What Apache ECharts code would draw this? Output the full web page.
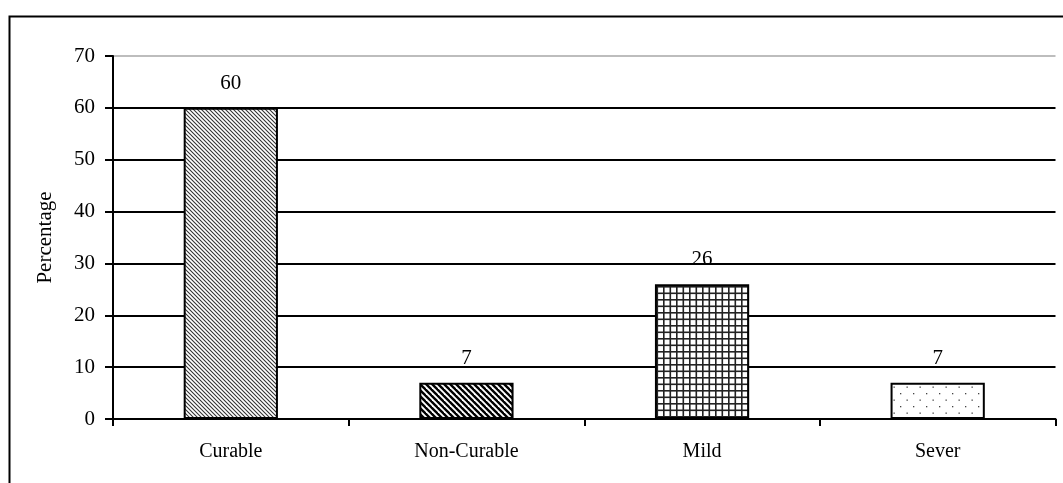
<!DOCTYPE html>
<html>
<head>
<meta charset="utf-8">
<script src="https://cdn.jsdelivr.net/npm/echarts@6/dist/echarts.min.js"></script>
<style>
html,body{margin:0;padding:0;background:#fff;}
#chart{width:1063px;height:483px;}
</style>
</head>
<body>
<div id="chart"></div>
<script>
const categories = ['Curable', 'Non-Curable', 'Mild', 'Sever'];
const percentages = [60, 7, 26, 7];
const yTicks = [0, 10, 20, 30, 40, 50, 60, 70];

function tile(w, h, draw) {
  const c = document.createElement('canvas');
  c.width = w; c.height = h;
  const ctx = c.getContext('2d');
  ctx.fillStyle = '#fff';
  ctx.fillRect(0, 0, w, h);
  draw(ctx, w, h);
  return c;
}
function diag(s, lw, col) {
  return tile(s, s, (ctx) => {
    ctx.strokeStyle = col; ctx.lineWidth = lw;
    for (let k = -1; k <= 1; k++) {
      ctx.beginPath();
      ctx.moveTo(k * s - 1, -1);
      ctx.lineTo(k * s + s + 1, s + 1);
      ctx.stroke();
    }
  });
}
const patCurable = diag(4, 1.1, '#333');
const patNon = diag(6, 2.4, '#000');
const patMild = tile(13, 13, (ctx) => {
  ctx.fillStyle = '#222';
  ctx.fillRect(0, 0, 1.6, 13); ctx.fillRect(6.5, 0, 1.6, 13);
  ctx.fillRect(0, 0, 13, 1.6); ctx.fillRect(0, 6.5, 13, 1.6);
});
const patSever = tile(13, 13, (ctx) => {
  ctx.fillStyle = '#444';
  ctx.fillRect(3, 3, 1.3, 1.3);
  ctx.fillRect(9.5, 9.5, 1.3, 1.3);
});
const patterns = [patCurable, patNon, patMild, patSever];

const FONT = "'Liberation Serif', 'Times New Roman', serif";
const chart = echarts.init(document.getElementById('chart'), null, {renderer: 'canvas'});
chart.setOption({
  animation: false,
  backgroundColor: '#fff',
  graphic: [{
    type: 'rect', left: 7, top: 14, silent: true,
    shape: {width: 1200, height: 600},
    style: {fill: 'none', stroke: '#000', lineWidth: 2}
  }],
  grid: {left: 113, right: 7.5, top: 56, bottom: 64, containLabel: false},
  xAxis: {
    type: 'category',
    data: categories,
    boundaryGap: true,
    axisLine: {lineStyle: {color: '#000', width: 2}},
    axisTick: {show: true, length: 7, lineStyle: {color: '#000', width: 2}},
    axisLabel: {color: '#000', fontFamily: FONT, fontSize: 20, margin: 23}
  },
  yAxis: {
    type: 'value',
    min: yTicks[0], max: yTicks[yTicks.length - 1], interval: 10,
    name: 'Percentage',
    nameLocation: 'middle',
    nameGap: 57,
    nameTextStyle: {color: '#000', fontFamily: FONT, fontSize: 21},
    axisLine: {show: true, lineStyle: {color: '#000', width: 2}},
    axisTick: {show: true, length: 8, lineStyle: {color: '#000', width: 2}},
    axisLabel: {color: '#000', fontFamily: FONT, fontSize: 21, margin: 18},
    splitLine: {show: true, lineStyle: {color: ['#000','#000','#000','#000','#000','#000','#000','#bdbdbd'], width: 2}}
  },
  series: [{
    type: 'bar',
    barWidth: '40%',
    data: percentages.map((v, i) => ({
      value: v,
      itemStyle: {color: {image: patterns[i], repeat: 'repeat'}}
    })),
    itemStyle: {borderColor: '#000', borderWidth: 2},
    label: {show: true, position: 'top', distance: 14, color: '#000', fontFamily: FONT, fontSize: 21}
  }]
});
</script>
</body>
</html>
